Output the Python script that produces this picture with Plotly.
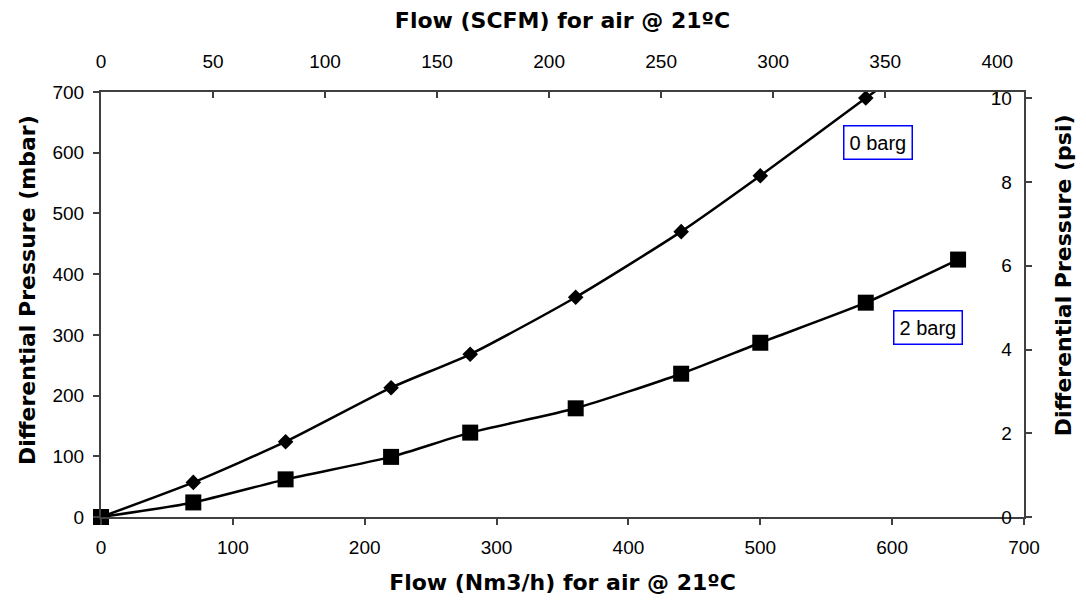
import plotly.graph_objects as go

# ---- data ----
flow_nm3h = [0, 70, 140, 220, 280, 360, 440, 500, 580, 650]
dp_0barg = [0, 57, 124, 213, 268, 362, 470, 562, 690, 800]
dp_2barg = [0, 24, 62, 99, 139, 179, 236, 287, 353, 424]
series_labels = ["0 barg", "2 barg"]
y_titles = ["Differential Pressure (mbar)", "Differential Pressure (psi)"]

NM3H_TO_SCFM = 0.5885
MBAR_TO_PSI = 0.0145038

x_range = [0, 700]
y_range = [0, 700]

FONT = "Arial, Liberation Sans, sans-serif"
TITLE_FONT = "DejaVu Sans, Arial, sans-serif"
AX_COLOR = "#404040"

fig = go.Figure()

fig.add_trace(go.Scatter(
    x=flow_nm3h, y=dp_0barg, name=series_labels[0], mode="lines+markers",
    line=dict(color="black", width=2.5, shape="spline", smoothing=0.6),
    marker=dict(symbol="diamond", size=12, color="black"),
    showlegend=False,
))
fig.add_trace(go.Scatter(
    x=flow_nm3h, y=dp_2barg, name=series_labels[1], mode="lines+markers",
    line=dict(color="black", width=2.5, shape="spline", smoothing=0.6),
    marker=dict(symbol="square", size=16, color="black"),
    cliponaxis=False, showlegend=False,
))
# secondary scales (SCFM / psi) - invisible trace so the axes are drawn
fig.add_trace(go.Scatter(
    x=[f * NM3H_TO_SCFM for f in flow_nm3h],
    y=[d * MBAR_TO_PSI for d in dp_2barg],
    xaxis="x2", yaxis="y2", mode="lines", opacity=0,
    line=dict(width=0), hoverinfo="skip", showlegend=False,
))

tickfont = dict(family=FONT, size=19, color="black")
titlefont = dict(family=TITLE_FONT, size=22, color="black", weight="bold")

common = dict(
    showgrid=False, zeroline=False, automargin=False,
    showline=True, linecolor=AX_COLOR, linewidth=2,
    ticklen=6, tickwidth=2, tickcolor=AX_COLOR, tickfont=tickfont,
)

fig.update_layout(
    # page body has an 8px margin: plot area lands at x 101-1024, y 92-517
    width=1070, height=591,
    margin=dict(l=93, r=54, t=84, b=82),
    paper_bgcolor="white", plot_bgcolor="white",
    font=dict(family=FONT, color="black"),
    xaxis=dict(
        range=x_range, dtick=100, ticks="outside", ticklabelstandoff=6,
        title=dict(text="<b>Flow (Nm3/h) for air @ 21ºC</b>", font=titlefont, standoff=18),
        **common,
    ),
    xaxis2=dict(
        range=[x_range[0] * NM3H_TO_SCFM, x_range[1] * NM3H_TO_SCFM],
        overlaying="x", side="top", dtick=50, ticks="inside", ticklabelstandoff=14,
        title=dict(text="<b>Flow (SCFM) for air @ 21ºC</b>", font=titlefont, standoff=17),
        **common,
    ),
    yaxis=dict(
        range=y_range, dtick=100, ticks="outside", ticklabelstandoff=5,
        **common,
    ),
    yaxis2=dict(
        range=[y_range[0] * MBAR_TO_PSI, y_range[1] * MBAR_TO_PSI],
        overlaying="y", side="right", dtick=2, ticks="outside",
        ticklabelposition="inside", ticklabeloverflow="allow", ticklabelstandoff=13,
        **common,
    ),
    annotations=[
        dict(x=589, y=617, xref="x", yref="y", text=series_labels[0], showarrow=False,
             font=dict(family=FONT, size=20, color="black"),
             bordercolor="#0000FF", borderwidth=1.5, borderpad=5, bgcolor="white"),
        dict(x=627, y=312, xref="x", yref="y", text=series_labels[1], showarrow=False,
             font=dict(family=FONT, size=20, color="black"),
             bordercolor="#0000FF", borderwidth=1.5, borderpad=5, bgcolor="white"),
        # y-axis titles
        dict(x=-0.0802, y=0.534, xref="paper", yref="paper", text="<b>" + y_titles[0] + "</b>",
             textangle=-90, showarrow=False, xanchor="center", yanchor="middle",
             font=titlefont),
        dict(x=1.0423, y=0.569, xref="paper", yref="paper", text="<b>" + y_titles[1] + "</b>",
             textangle=-90, showarrow=False, xanchor="center", yanchor="middle",
             font=titlefont),
    ],
)

fig.write_html("out.html")
